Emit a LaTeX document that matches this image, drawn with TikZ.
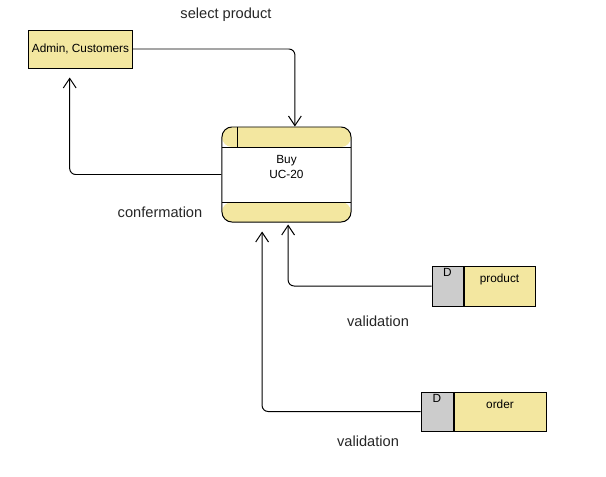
\documentclass[tikz,border=0pt]{standalone}
\usepackage{fontspec}
\setmainfont{Liberation Sans}
\usetikzlibrary{positioning,arrows.meta}
\definecolor{dfdyellow}{RGB}{243,231,160}
\definecolor{dfdgray}{RGB}{204,204,204}

\begin{document}
\begin{tikzpicture}[x=0.025cm, y=-0.025cm,
    smallfont/.style={font=\fontsize{8.4}{10.5}\selectfont},
    entity/.style={draw, thick, fill=dfdyellow, line width=0.7pt, inner sep=0pt,
        minimum width=2.575cm, minimum height=0.95cm, smallfont},
    process/.style={draw, line width=0.7pt, fill=white, rounded corners=0.25cm,
        minimum width=3.225cm, minimum height=2.375cm, inner sep=0pt,
        path picture={
            \fill[dfdyellow] (path picture bounding box.north west) rectangle ([yshift=-0.5cm]path picture bounding box.north east);
            \fill[dfdyellow] (path picture bounding box.south west) rectangle ([yshift=0.5cm]path picture bounding box.south east);
            \draw[line width=0.7pt] ([yshift=-0.5cm]path picture bounding box.north west) -- ([yshift=-0.5cm]path picture bounding box.north east);
            \draw[line width=0.7pt] ([yshift=0.5cm]path picture bounding box.south west) -- ([yshift=0.5cm]path picture bounding box.south east);
            \draw[line width=0.7pt] ([xshift=0.4cm]path picture bounding box.north west) -- ([xshift=0.4cm,yshift=-0.5cm]path picture bounding box.north west);
        }},
    dbox/.style={draw, line width=0.7pt, fill=dfdgray, inner sep=0pt, minimum height=1cm,
        label={[anchor=north, inner sep=2pt, smallfont]north:D}},
    store/.style={draw, line width=0.7pt, fill=dfdyellow, inner sep=0pt, minimum height=1cm},
    flow/.style={line width=0.7pt, rounded corners=0.15cm, -{Straight Barb[length=2.4mm, width=3.2mm, line width=0.7pt]}},
    flowlabel/.style={font=\fontsize{10.4}{12}\selectfont, text=black!85}]

    \useasboundingbox (0,0) rectangle (606,476);

    \node[entity] (admin) at (80.5,49) {Admin, Customers};
    \node[process, label={[align=center, smallfont, yshift=0.19cm]center:Buy\\UC-20}] (buy) at (286.5,174.5) {};

    \node[dbox, minimum width=0.775cm] (productd) at (447.5,286) {};
    \node[store, minimum width=1.775cm, right=0pt of productd,
        label={[smallfont, yshift=0.17cm]center:product}] (product) {};
    \node[dbox, minimum width=0.8cm, minimum height=0.975cm] (orderd) at (437,411.5) {};
    \node[store, minimum width=2.3cm, minimum height=0.975cm, right=0pt of orderd,
        label={[smallfont, yshift=0.17cm]center:order}] (order) {};

    \draw[flow] (admin.east) -| ([xshift=0.21cm]buy.north);
    \draw[flow, shorten >=0.225cm] (buy.west) -| ([xshift=-0.27cm]admin.south);
    \draw[flow, shorten >=0.05cm] (productd.west) -| ([xshift=0.04cm]buy.south);
    \draw[flow, shorten >=0.225cm] (orderd.west) -| ([xshift=-0.61cm]buy.south);

    \node[flowlabel] (selectlbl) at (226,15) {select product};
    \node[flowlabel] (conflbl) at (160,212) {confermation};
    \node[flowlabel] (validlbla) at (378,321) {validation};
    \node[flowlabel] (validlblb) at (368,441) {validation};
\end{tikzpicture}
\end{document}
